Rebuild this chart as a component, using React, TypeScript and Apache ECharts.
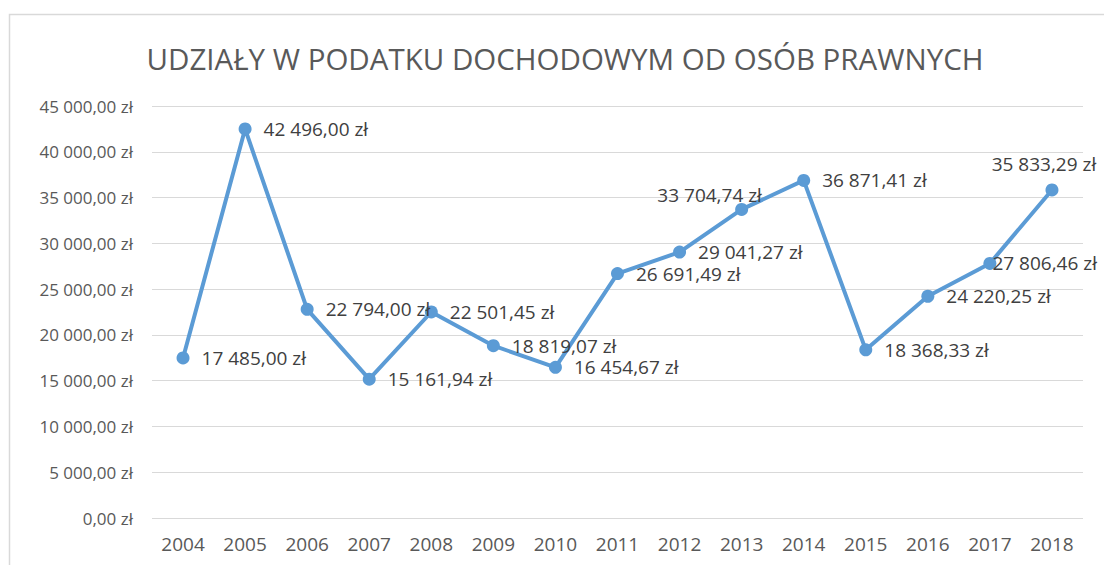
import React, { useEffect, useRef } from "react";
import * as echarts from "echarts";

const years = ["2004","2005","2006","2007","2008","2009","2010","2011","2012","2013","2014","2015","2016","2017","2018"];
const values = [17485.0, 42496.0, 22794.0, 15161.94, 22501.45, 18819.07, 16454.67, 26691.49, 29041.27, 33704.74, 36871.41, 18368.33, 24220.25, 27806.46, 35833.29];
const titleText = "UDZIAŁY W PODATKU DOCHODOWYM OD OSÓB PRAWNYCH";

function fmt(v: number): string {
  const fixed = v.toFixed(2);
  const [intPart, dec] = fixed.split(".");
  const withSep = intPart.replace(/\B(?=(\d{3})+(?!\d))/g, " ");
  return withSep + "," + dec + " zł";
}

const FONT = "'Open Sans', sans-serif";

export default function App() {
  const ref = useRef<HTMLDivElement>(null);
  useEffect(() => {
    if (!ref.current) return;
    const chart = echarts.init(ref.current, undefined, { renderer: "svg" });
    const data = values.map((v, i) => {
      const item: any = { value: v };
      if (i === 9) {
        item.label = { position: "top", distance: 5, offset: [-32, 7] };
      } else if (i === 14) {
        item.label = { position: "top", distance: 12, offset: [-8, 2] };
      } else if (i === 13) {
        item.label = { position: "right", distance: 2, offset: [-6, 0] };
      }
      return item;
    });
    chart.setOption({
      animation: false,
      backgroundColor: "#ffffff",
      title: {
        text: titleText,
        left: 560,
        top: 38,
        textAlign: "center",
        textStyle: { fontFamily: FONT, fontSize: 29.5, fontWeight: "normal", color: "#595959" },
      },
      graphic: [
        {
          type: "rect",
          shape: { x: 9.5, y: 14.5, width: 1200, height: 700 },
          style: { fill: "none", stroke: "#d9d9d9", lineWidth: 1.5 },
          silent: true,
        },
      ],
      grid: { left: 152, right: 21, top: 106, bottom: 47 },
      xAxis: {
        type: "category",
        data: years,
        boundaryGap: true,
        axisLine: { show: false },
        axisTick: { show: false },
        axisLabel: { fontFamily: FONT, fontSize: 19, color: "#595959", margin: 16 },
      },
      yAxis: {
        type: "value",
        min: 0,
        max: 45000,
        interval: 5000,
        axisLine: { show: false },
        axisTick: { show: false },
        splitLine: { lineStyle: { color: "#d9d9d9", width: 1 } },
        axisLabel: { fontFamily: FONT, fontSize: 17, color: "#595959", margin: 19, formatter: (v: number) => fmt(v) },
      },
      series: [
        {
          type: "line",
          data,
          symbol: "circle",
          symbolSize: 13,
          lineStyle: { color: "#5b9bd5", width: 4 },
          itemStyle: { color: "#5b9bd5" },
          label: {
            show: true,
            position: "right",
            distance: 12,
            fontFamily: FONT,
            fontSize: 19,
            color: "#404040",
            formatter: (p: any) => fmt(p.value),
          },
        },
      ],
    });
    return () => chart.dispose();
  }, []);
  return <div ref={ref} style={{ position: "fixed", left: 0, top: 0, width: 1104, height: 565 }} />;
}
